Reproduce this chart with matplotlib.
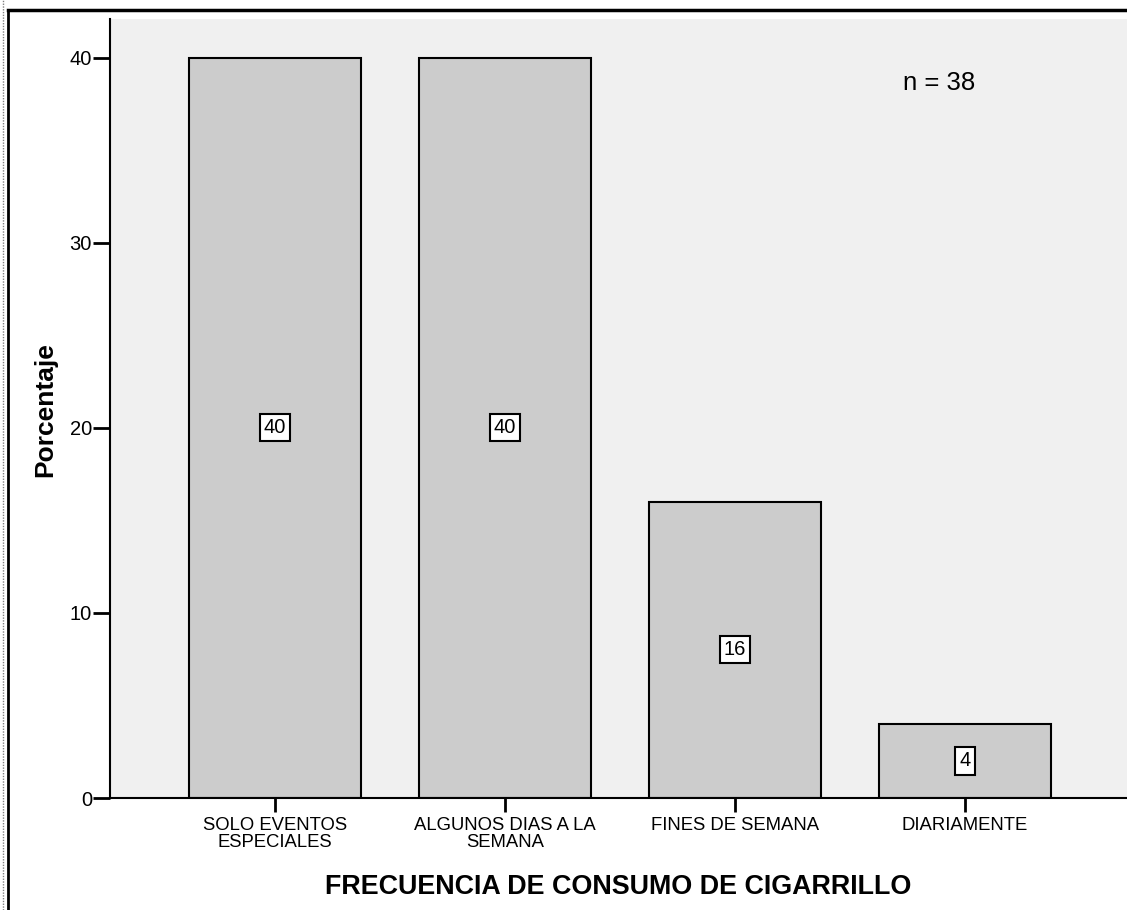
import matplotlib.pyplot as plt
from matplotlib.lines import Line2D

categories = ["SOLO EVENTOS\nESPECIALES", "ALGUNOS DIAS A LA\nSEMANA",
              "FINES DE SEMANA", "DIARIAMENTE"]
percentages = [40, 40, 16, 4]
value_labels = ["40", "40", "16", "4"]
yticks = [0, 10, 20, 30, 40]
n_label = "n = 38"

plt.rcParams["font.family"] = ["Liberation Sans", "DejaVu Sans"]

fig = plt.figure(figsize=(11.27, 9.10), dpi=100)
ax = fig.add_axes([110 / 1127, 112 / 910, 1017 / 1127, 779 / 910])
ax.set_facecolor("#f0f0f0")

x = list(range(len(categories)))
ax.bar(x, percentages, width=0.748, color="#cccccc", edgecolor="black",
       linewidth=1.5, zorder=2)

for xi, v, lab in zip(x, percentages, value_labels):
    ax.text(xi, v / 2, lab, ha="center", va="center", fontsize=14.5, zorder=3,
            bbox=dict(boxstyle="square,pad=0.2", facecolor="white",
                      edgecolor="black", linewidth=1.5))

ax.set_xlim(-0.717, 3.704)
ax.set_ylim(0, 42.1)
ax.set_yticks(yticks)
ax.set_xticks(x)
ax.set_xticklabels(categories, fontsize=13.3, linespacing=1.0)
ax.tick_params(axis="y", labelsize=14.5, length=12, width=2, direction="out",
               pad=1)
ax.tick_params(axis="x", length=10, width=2, direction="out", pad=4)

for side in ["top", "right"]:
    ax.spines[side].set_visible(False)
ax.spines["left"].set_linewidth(1.5)
ax.spines["bottom"].set_linewidth(1.5)

ax.set_xlabel("FRECUENCIA DE CONSUMO DE CIGARRILLO", fontsize=19.4,
              fontweight="bold", labelpad=16)
ax.set_ylabel("Porcentaje", fontsize=19, fontweight="bold", va="center")
ax.yaxis.set_label_coords(-0.064, 0.498)
ax.text(0.815, 0.918, n_label, transform=ax.transAxes, fontsize=18.5,
        ha="center", va="center")

# outer frame like the original export
fig.add_artist(Line2D([8 / 1127, 1], [900 / 910, 900 / 910], color="black",
                      linewidth=2.5, transform=fig.transFigure))
fig.add_artist(Line2D([8 / 1127, 8 / 1127], [0, 900 / 910], color="black",
                      linewidth=2, transform=fig.transFigure))
fig.add_artist(Line2D([3 / 1127, 3 / 1127], [0, 1], color="gray",
                      linewidth=1, linestyle=(0, (1, 1)),
                      transform=fig.transFigure))

fig.savefig("out.png", dpi=100)
